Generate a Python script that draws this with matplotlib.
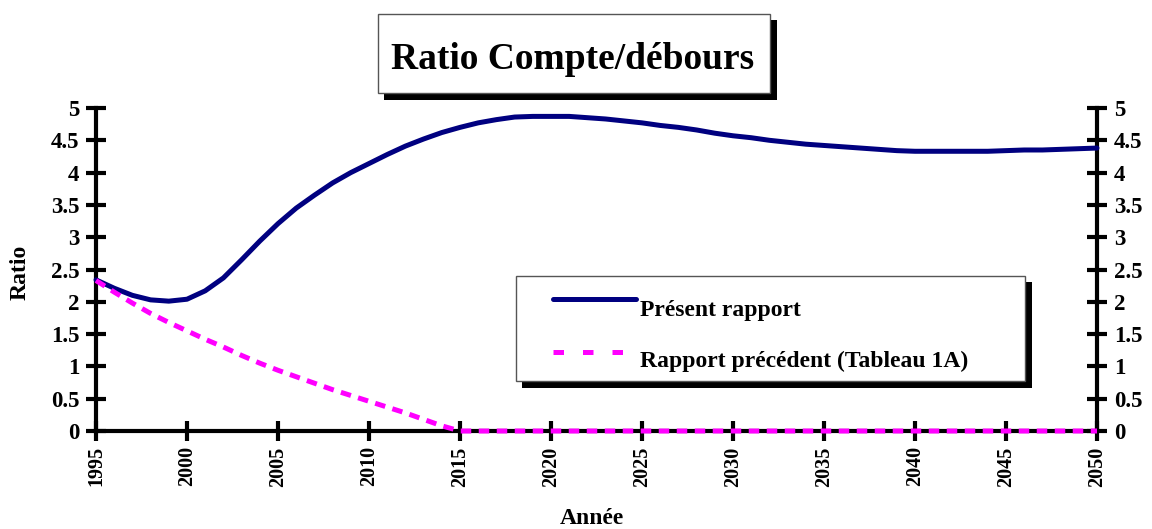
import matplotlib
matplotlib.use("Agg")
import matplotlib.pyplot as plt
from matplotlib.patches import Rectangle
from matplotlib.lines import Line2D

years = list(range(1995, 2051))
present = [2.34, 2.21, 2.10, 2.03, 2.01, 2.04, 2.17, 2.37, 2.65, 2.94,
           3.21, 3.45, 3.65, 3.84, 4.00, 4.14, 4.28, 4.41, 4.52, 4.62,
           4.70, 4.77, 4.82, 4.86, 4.87, 4.87, 4.87, 4.85, 4.83, 4.80,
           4.77, 4.73, 4.70, 4.66, 4.61, 4.57, 4.54, 4.50, 4.47, 4.44,
           4.42, 4.40, 4.38, 4.36, 4.34, 4.33, 4.33, 4.33, 4.33, 4.33,
           4.34, 4.35, 4.35, 4.36, 4.37, 4.38]
previous = [2.33, 2.15, 1.98, 1.82, 1.68, 1.55, 1.42, 1.30, 1.17, 1.05,
            0.94, 0.84, 0.74, 0.64, 0.55, 0.46, 0.37, 0.28, 0.18, 0.08,
            0.0] + [0.0] * 35
xticks = list(range(1995, 2051, 5))
yticks = [0, 0.5, 1, 1.5, 2, 2.5, 3, 3.5, 4, 4.5, 5]
ytick_labels = ["0", "0.5", "1", "1.5", "2", "2.5", "3", "3.5", "4", "4.5", "5"]
title = "Ratio Compte/débours"
series_names = ["Présent rapport", "Rapport précédent (Tableau 1A)"]

plt.rcParams['font.family'] = ['Liberation Serif', 'DejaVu Serif']
plt.rcParams['font.weight'] = 'bold'

W, H = 1152, 529
fig = plt.figure(figsize=(W/100, H/100), dpi=100)
ax = fig.add_axes([96/W, 1 - 431/H, (1097 - 96)/W, (431 - 108)/H])

navy = '#000080'
magenta = '#ff00ff'
ax.plot(years, present, color=navy, lw=3.6, solid_capstyle='round',
        solid_joinstyle='round', zorder=3, clip_on=False)
ax.plot(years, previous, color=magenta, lw=3.6, dashes=(2.1, 1.5),
        zorder=4, clip_on=False)

ax.set_xlim(1995, 2050)
ax.set_ylim(0, 5)
ax.set_xticks(xticks)
ax.set_xticklabels([str(x) for x in xticks], rotation=90, fontsize=14.5, fontweight='bold')
ax.set_yticks(yticks)
ax.set_yticklabels(ytick_labels, fontsize=16.5, fontweight='bold')
ax.tick_params(axis='y', which='both', direction='inout', length=14, width=3,
               left=True, right=True, labelleft=True, labelright=True, pad=5)
ax.tick_params(axis='x', direction='inout', length=14, width=3, pad=4)
for s in ['left', 'right', 'bottom']:
    ax.spines[s].set_linewidth(3)
    ax.spines[s].set_zorder(2)
ax.spines['top'].set_visible(False)

ax.set_ylabel("Ratio", fontsize=17, fontweight='bold')
ax.yaxis.set_label_coords((31 - 96)/(1097 - 96), 0.49)
ax.set_xlabel("Année", fontsize=17, fontweight='bold')
ax.xaxis.set_label_coords((592 - 96)/(1097 - 96), -(508 - 431)/(431 - 108))


def fig_rect(x0, y0, x1, y1, **kw):
    r = Rectangle((x0/W, 1 - y1/H), (x1 - x0)/W, (y1 - y0)/H,
                  transform=fig.transFigure, **kw)
    fig.add_artist(r)


# Title box with shadow
fig_rect(384, 20, 777, 100, facecolor='black', edgecolor='none', zorder=5)
fig_rect(378, 14, 770, 93, facecolor='white', edgecolor='#555555', lw=1, zorder=6)
fig.text(573/W, 1 - 69/H, title, fontsize=27, fontweight='bold',
         ha='center', va='baseline', zorder=7)

# Legend box with shadow
fig_rect(522, 282, 1032, 388, facecolor='black', edgecolor='none', zorder=5)
fig_rect(516, 276, 1025, 381, facecolor='white', edgecolor='#555555', lw=1, zorder=6)
fig.add_artist(Line2D([553/W, 636/W], [1 - 299/H, 1 - 299/H],
                      transform=fig.transFigure, color=navy, lw=3.6,
                      solid_capstyle='round', zorder=7))
fig.add_artist(Line2D([553/W, 625/W], [1 - 352/H, 1 - 352/H],
                      transform=fig.transFigure, color=magenta, lw=3.6,
                      dashes=(2.1, 3.8), zorder=7))
fig.text(640/W, 1 - 316/H, series_names[0], fontsize=17, fontweight='bold',
         ha='left', va='baseline', zorder=8)
fig.text(640/W, 1 - 367/H, series_names[1], fontsize=17,
         fontweight='bold', ha='left', va='baseline', zorder=8)

fig.savefig("out.png", dpi=100)
